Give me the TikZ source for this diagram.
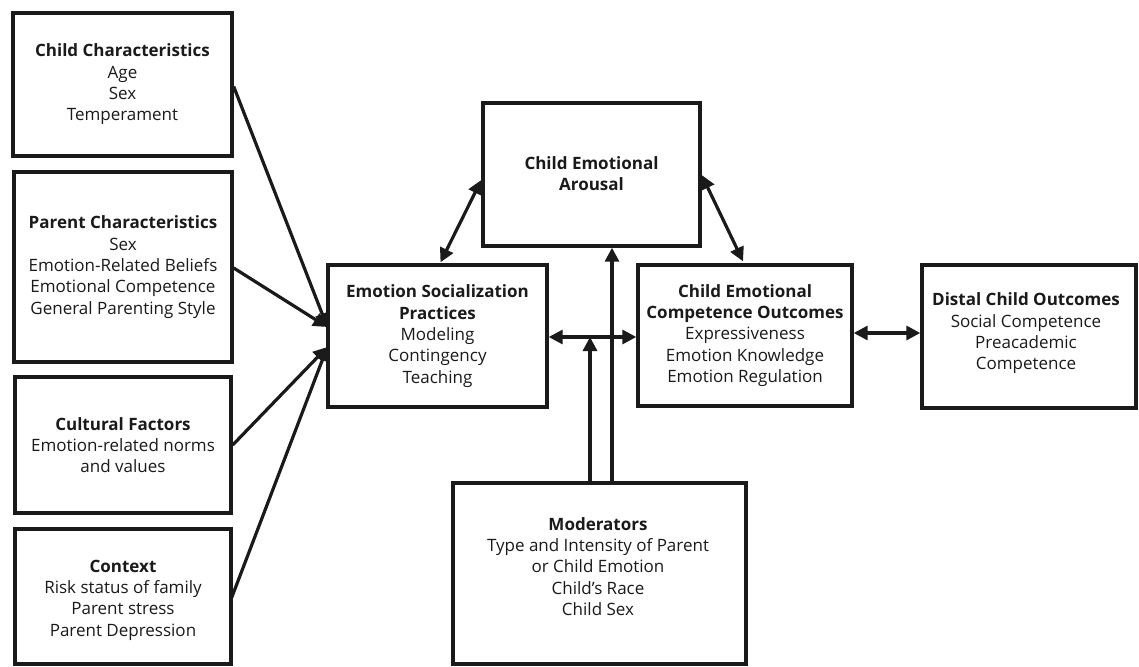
\documentclass[tikz,border=0pt]{standalone}
\usepackage{fontspec}
\setmainfont{Open Sans}
\usetikzlibrary{arrows.meta,calc}
\definecolor{ink}{HTML}{1A1A1A}
\begin{document}
\begin{tikzpicture}[x=1pt,y=-1pt,
  box/.style={draw=ink,line width=3.4pt,rectangle,inner sep=0pt,text=ink,align=center,
    font=\fontsize{17}{21.3}\selectfont},
  conn/.style={draw=ink,line width=3.2pt},
  tip/.style={-{Triangle[length=14pt,width=14pt]}},
  tips/.style={{Triangle[length=14pt,width=14pt]}-{Triangle[length=14pt,width=14pt]}},
  lbl/.style={text=ink,align=center,font=\fontsize{17}{21.3}\selectfont}]
\useasboundingbox (0,0) rectangle (1139,666);
\clip (0,0) rectangle (1139,666);
\fill[white] (0,0) rectangle (1139,666);
% left column
\node[box,minimum width=219pt,minimum height=143pt] (cc) at (122.5,84.5)
  {\textbf{Child Characteristics}\\Age\\Sex\\Temperament};
\node[box,minimum width=218pt,minimum height=190pt] (pc) at (123,267)
  {\textbf{Parent Characteristics}\\Sex\\Emotion-Related Beliefs\\Emotional Competence\\General Parenting Style};
\node[box,minimum width=216pt,minimum height=136pt] (cf) at (123,445)
  {\textbf{Cultural Factors}\\Emotion-related norms\\and values};
\node[box,minimum width=216pt,minimum height=135pt] (ctx) at (123,596.5) {};
\node[lbl] (ctxt) at (123,600)
  {\textbf{Context}\\Risk status of family\\Parent stress\\Parent Depression};
% centre
\node[box,minimum width=219pt,minimum height=142pt] (esp) at (437.5,336)
  {\textbf{Emotion Socialization}\\\textbf{Practices}\\Modeling\\Contingency\\Teaching};
\node[box,minimum width=217pt,minimum height=143pt] (cea) at (591.5,174.5) {};
\node[lbl] (ceat) at (591.5,173.5) {\textbf{Child Emotional}\\\textbf{Arousal}};
\node[box,minimum width=214pt,minimum height=141pt] (ceco) at (745,335.5)
  {\textbf{Child Emotional}\\\textbf{Competence Outcomes}\\Expressiveness\\Emotion Knowledge\\Emotion Regulation};
\node[box,minimum width=214pt,minimum height=143pt] (dist) at (1029,336.5) {};
\node[lbl] (distt) at (1026,333.5)
  {\textbf{Distal Child Outcomes}\\Social Competence\\Preacademic\\Competence};
\node[box,minimum width=293pt,minimum height=181pt] (mod) at (599.5,573.5) {};
\node[lbl] (modt) at (598,566.5)
  {\textbf{Moderators}\\Type and Intensity of Parent\\or Child Emotion\\Child's Race\\Child Sex};
% converging arrows into ESP
\coordinate (inA) at ($(esp.west)+(1,-9)$);
\coordinate (inB) at ($(esp.west)+(1,11)$);
\draw[conn,tip] ($(cc.east)+(0,2)$) -- (inA);
\draw[conn,tip] ($(pc.east)+(0,1)$) -- (inA);
\draw[conn,tip] (cf.east) -- (inB);
\draw[conn,tip] ($(ctx.east)+(-1,1)$) -- (inB);
% two-way arrows
\draw[conn,tips] ($(esp.north)+(3,-1)$) -- ($(cea.west)+(0,5.5)$);
\draw[conn,tips] ($(cea.east)+(0,0.5)$) -- ($(ceco.north)+(-2,-2)$);
\coordinate (hl) at ($(esp.east)+(0,1)$);
\coordinate (hr) at ($(ceco.west)+(0,1.5)$);
\draw[conn,tips] (hl) -- (hr);
\draw[conn,tips] ($(ceco.east)+(0,-2.5)$) -- ($(dist.west)+(0,-3.5)$);
% moderator arrows
\coordinate (mA) at ($(mod.north)+(-9.5,0)$);
\coordinate (mB) at ($(mod.north)+(12.5,0)$);
\draw[conn,tip] (mA) -- (mA |- hl);
\draw[conn,tip] (mB) -- (mB |- cea.south);
\end{tikzpicture}
\end{document}
